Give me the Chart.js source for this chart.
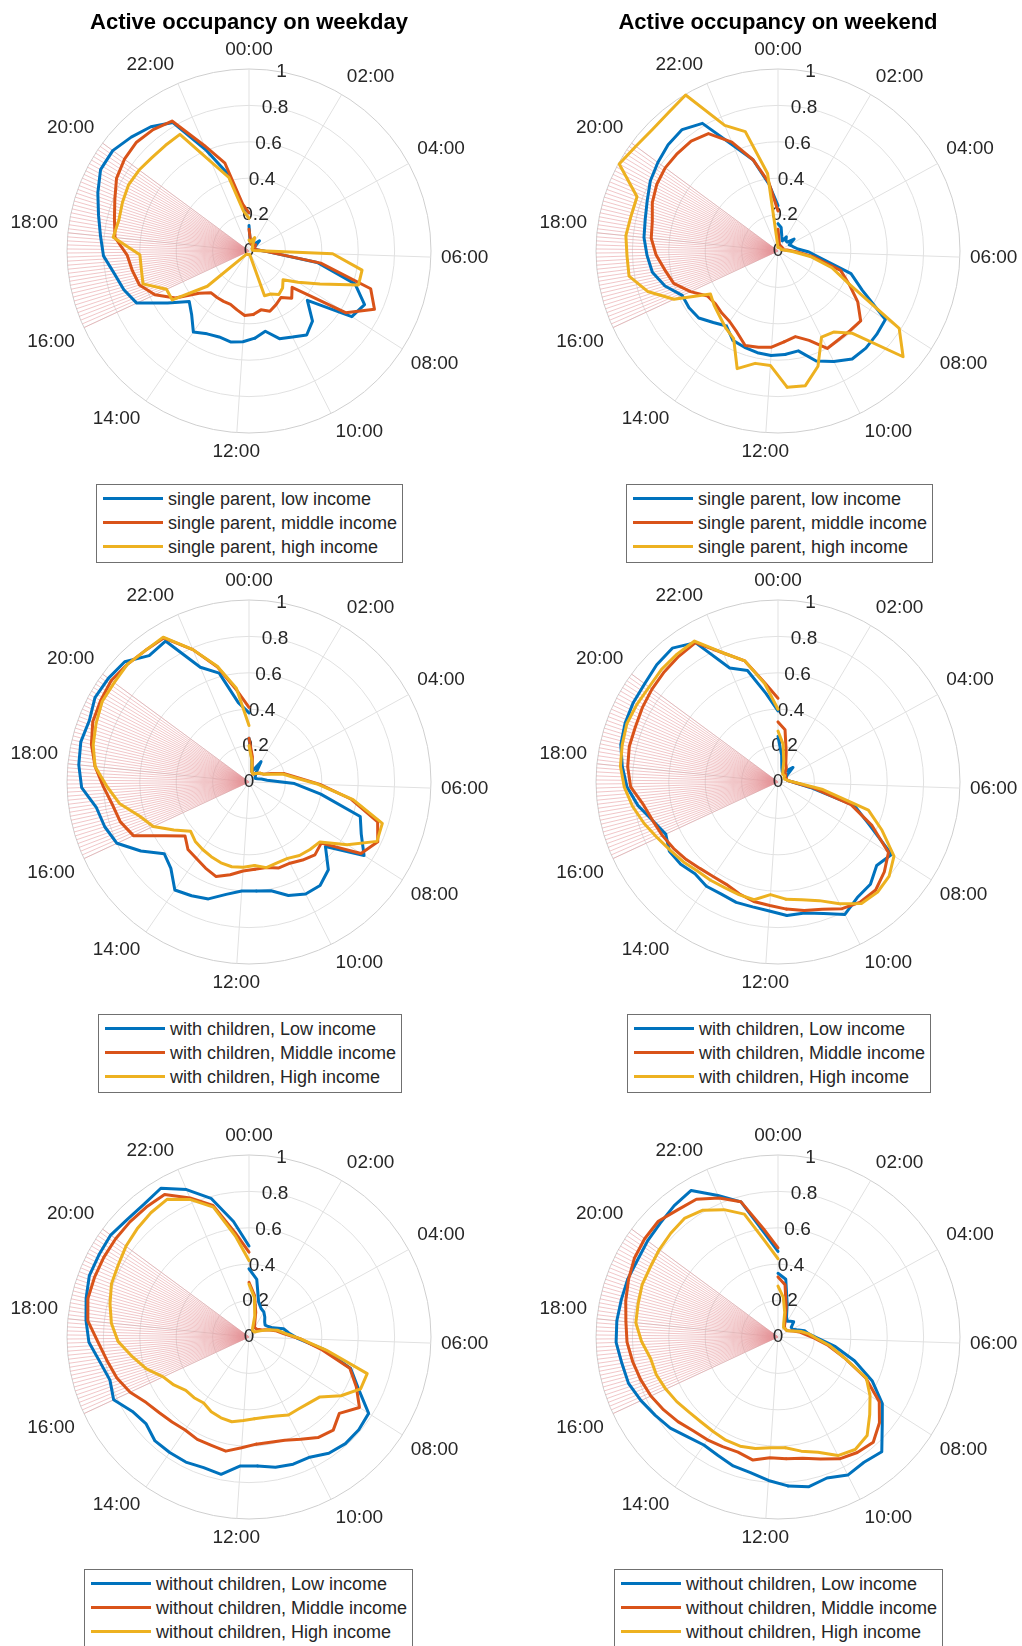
<!DOCTYPE html>
<html>
<head>
<meta charset="utf-8">
<script src="https://cdn.jsdelivr.net/npm/chart.js@4/dist/chart.umd.min.js"></script>
<style>
html,body{margin:0;padding:0;background:#fff;}
#page{position:relative;width:1022px;height:1646px;overflow:hidden;background:#fff;font-family:"Liberation Sans",Arial,Helvetica,sans-serif;}
#page canvas{position:absolute;}
.legend{position:absolute;box-sizing:border-box;border:1px solid #707070;background:#fff;height:79px;z-index:2;}
.legend .row{position:absolute;left:0;right:0;height:24px;line-height:24px;font-size:18px;color:#262626;white-space:nowrap;}
.legend .sw{position:absolute;left:6px;top:10px;width:60px;height:3px;}
.legend .tx{position:absolute;left:71px;top:0;}
</style>
</head>
<body>
<div id="page"></div>
<script>
// ---------- data (half-hour steps 00:00 ... 23:30, 48 values each) ----------
const angleTickLabels = ['00:00','02:00','04:00','06:00','08:00','10:00','12:00','14:00','16:00','18:00','20:00','22:00'];
const radialTicks = [0, 0.2, 0.4, 0.6, 0.8, 1];
const radialTickLabels = ['0', '0.2', '0.4', '0.6', '0.8', '1'];
const fanStart = '16:00';
const fanEnd = '20:00';
const fanStepMinutes = 5;

const legendSingleParent = ['single parent, low income', 'single parent, middle income', 'single parent, high income'];
const legendWithChildren = ['with children, Low income', 'with children, Middle income', 'with children, High income'];
const legendWithoutChildren = ['without children, Low income', 'without children, Middle income', 'without children, High income'];
const titles = ['Active occupancy on weekday', 'Active occupancy on weekend'];

const spLowWeekday  = [0.14,0.05,0.04,0.04,0.04,0.05,0.08,0.04,0.03,0.03,0.04,0.05, 0.10,0.38,0.61,0.70,0.67,0.42,0.52,0.56,0.53,0.51,0.45,0.48, 0.50,0.51,0.50,0.51,0.54,0.47,0.43,0.53,0.68,0.72,0.75,0.80, 0.82,0.85,0.89,0.93,0.93,0.90,0.87,0.82,0.60,0.44,0.24,0.21];
const spMidWeekday  = [0.12,0.06,0.04,0.05,0.04,0.04,0.05,0.04,0.03,0.03,0.04,0.05, 0.10,0.40,0.70,0.76,0.63,0.31,0.35,0.31,0.33,0.35,0.33,0.35, 0.355,0.33,0.31,0.31,0.31,0.31,0.36,0.48,0.57,0.63,0.65,0.67, 0.74,0.76,0.79,0.83,0.85,0.86,0.85,0.83,0.63,0.50,0.26,0.21];
const spHighWeekday = [0.06,0.05,0.06,0.08,0.04,0.03,0.03,0.02,0.02,0.02,0.02,0.03, 0.46,0.63,0.63,0.43,0.32,0.245,0.275,0.29,0.265,0.26,0.02,0.02, 0.02,0.02,0.02,0.02,0.02,0.03,0.30,0.50,0.50,0.61,0.60,0.60, 0.75,0.735,0.745,0.755,0.75,0.74,0.74,0.745,0.53,0.42,0.22,0.18];

const spLowWeekend  = [0.15,0.13,0.08,0.06,0.09,0.07,0.07,0.11,0.07,0.08,0.09,0.11, 0.17,0.24,0.42,0.51,0.70,0.71,0.72,0.72,0.68,0.64,0.56,0.57, 0.575,0.57,0.56,0.55,0.50,0.53,0.57,0.58,0.58,0.65,0.70,0.72, 0.74,0.75,0.77,0.80,0.82,0.84,0.85,0.815,0.63,0.52,0.37,0.25];
const spMidWeekend  = [0.12,0.05,0.03,0.03,0.03,0.03,0.03,0.03,0.03,0.03,0.03,0.05, 0.10,0.20,0.36,0.43,0.52,0.595,0.59,0.59,0.60,0.52,0.48,0.50, 0.53,0.54,0.55,0.50,0.47,0.46,0.45,0.46,0.53,0.60,0.63,0.67, 0.70,0.71,0.74,0.76,0.77,0.77,0.77,0.75,0.65,0.52,0.38,0.22];
const spHighWeekend = [0.02,0.02,0.02,0.02,0.02,0.02,0.02,0.02,0.02,0.02,0.03,0.04, 0.08,0.18,0.31,0.43,0.79,0.90,0.61,0.54,0.53,0.67,0.755,0.75, 0.63,0.63,0.684,0.54,0.51,0.48,0.46,0.44,0.63,0.75,0.83,0.83, 0.84,0.83,0.83,0.995,0.97,0.96,0.97,0.996,0.75,0.68,0.43,0.02];

const wcLowWeekday  = [0.24,0.12,0.06,0.08,0.13,0.06,0.05,0.04,0.04,0.05,0.07,0.10, 0.25,0.40,0.64,0.68,0.75,0.55,0.65,0.69,0.69,0.66,0.61,0.60, 0.60,0.63,0.68,0.70,0.72,0.64,0.61,0.705,0.80,0.83,0.85,0.92, 0.94,0.95,0.94,0.965,0.96,0.95,0.885,0.90,0.685,0.62,0.44,0.38];
const wcMidWeekday  = [0.24,0.14,0.06,0.05,0.05,0.06,0.07,0.08,0.09,0.13,0.20,0.26, 0.39,0.57,0.74,0.78,0.73,0.52,0.54,0.52,0.50,0.50,0.48,0.48, 0.49,0.52,0.55,0.53,0.51,0.50,0.46,0.55,0.70,0.74,0.76,0.80, 0.85,0.89,0.92,0.93,0.94,0.93,0.92,0.92,0.79,0.655,0.51,0.41];
const wcHighWeekday = [0.20,0.12,0.06,0.05,0.05,0.06,0.07,0.08,0.09,0.12,0.19,0.25, 0.38,0.58,0.767,0.775,0.64,0.51,0.50,0.49,0.47,0.47,0.48,0.46, 0.47,0.475,0.47,0.46,0.45,0.44,0.42,0.49,0.58,0.63,0.72,0.78, 0.85,0.88,0.90,0.92,0.92,0.93,0.92,0.925,0.79,0.66,0.52,0.31];

const wcLowWeekend  = [0.25,0.15,0.08,0.06,0.06,0.08,0.115,0.06,0.05,0.05,0.05,0.06, 0.09,0.18,0.44,0.55,0.74,0.71,0.757,0.77,0.815,0.765,0.735,0.735, 0.71,0.70,0.70,0.69,0.695,0.68,0.70,0.708,0.68,0.72,0.78,0.83, 0.86,0.888,0.90,0.907,0.91,0.927,0.937,0.89,0.68,0.635,0.49,0.39];
const wcMidWeekend  = [0.33,0.29,0.17,0.11,0.09,0.06,0.06,0.05,0.05,0.05,0.05,0.06, 0.09,0.20,0.42,0.57,0.72,0.765,0.80,0.80,0.78,0.74,0.72,0.70, 0.68,0.67,0.65,0.63,0.63,0.64,0.66,0.68,0.70,0.72,0.75,0.81, 0.83,0.84,0.84,0.85,0.86,0.87,0.88,0.89,0.77,0.69,0.55,0.46];
const wcHighWeekend = [0.28,0.21,0.12,0.07,0.05,0.05,0.05,0.04,0.04,0.04,0.05,0.06, 0.10,0.25,0.52,0.63,0.756,0.80,0.816,0.81,0.75,0.69,0.66,0.645, 0.62,0.66,0.655,0.65,0.655,0.66,0.68,0.70,0.73,0.77,0.81,0.845, 0.87,0.88,0.89,0.885,0.88,0.89,0.895,0.90,0.77,0.69,0.545,0.40];

const ncLowWeekday  = [0.375,0.32,0.20,0.17,0.16,0.14,0.12,0.11,0.12,0.14,0.195,0.22, 0.27,0.42,0.585,0.66,0.78,0.79,0.79,0.775,0.74,0.74,0.73,0.71, 0.71,0.77,0.76,0.77,0.77,0.77,0.74,0.76,0.82,0.80,0.83,0.88, 0.90,0.92,0.94,0.94,0.944,0.93,0.93,0.95,0.88,0.79,0.64,0.50];
const ncMidWeekday  = [0.30,0.23,0.14,0.08,0.06,0.06,0.06,0.07,0.08,0.11,0.15,0.19, 0.28,0.40,0.58,0.65,0.72,0.65,0.69,0.67,0.63,0.60,0.59,0.59, 0.61,0.64,0.63,0.63,0.62,0.63,0.645,0.67,0.72,0.76,0.79,0.83, 0.89,0.91,0.91,0.91,0.91,0.91,0.91,0.91,0.83,0.75,0.58,0.466];
const ncHighWeekday = [0.29,0.22,0.12,0.05,0.04,0.04,0.04,0.05,0.07,0.11,0.16,0.20, 0.28,0.43,0.68,0.676,0.60,0.51,0.49,0.48,0.48,0.46,0.45,0.45, 0.46,0.475,0.47,0.46,0.44,0.45,0.455,0.49,0.52,0.59,0.65,0.72, 0.76,0.785,0.81,0.82,0.84,0.855,0.87,0.88,0.82,0.74,0.56,0.42];

const ncLowWeekend  = [0.35,0.32,0.19,0.12,0.10,0.11,0.12,0.09,0.09,0.11,0.15,0.17, 0.22,0.32,0.44,0.57,0.68,0.75,0.85,0.835,0.85,0.82,0.84,0.82, 0.79,0.76,0.75,0.73,0.72,0.74,0.775,0.80,0.83,0.86,0.87,0.89, 0.89,0.885,0.885,0.88,0.89,0.90,0.92,0.936,0.845,0.77,0.58,0.47];
const ncMidWeekend  = [0.33,0.29,0.17,0.10,0.07,0.06,0.06,0.06,0.07,0.09,0.12,0.15, 0.20,0.28,0.38,0.53,0.66,0.73,0.78,0.77,0.75,0.71,0.68,0.67, 0.665,0.69,0.67,0.675,0.685,0.695,0.72,0.745,0.77,0.79,0.81,0.83, 0.84,0.86,0.88,0.90,0.91,0.915,0.89,0.88,0.83,0.77,0.60,0.49];
const ncHighWeekend = [0.28,0.22,0.14,0.08,0.06,0.06,0.06,0.06,0.07,0.09,0.13,0.17, 0.21,0.29,0.38,0.535,0.60,0.66,0.73,0.75,0.73,0.67,0.64,0.61, 0.61,0.625,0.635,0.635,0.63,0.63,0.64,0.66,0.68,0.70,0.71,0.75, 0.785,0.79,0.80,0.80,0.81,0.82,0.83,0.81,0.76,0.70,0.53,0.43];

// ---------- styling / layout ----------
const seriesColors = ['#0072BD', '#D95319', '#EDB120'];
const FONT = '"Liberation Sans", Arial, Helvetica, sans-serif';
const TEXT = '#262626';
const R = 182;            // radius of the r = 1 ring
const HALF = 260;         // half canvas size
const RTICK_ANGLE = 10.3; // degrees, where radial tick labels sit

// angular slots: 00:00 ... 23:00 in 30-minute steps; 23:30 wraps onto the 00:00 ray
const timeSlots = [];
for (let m = 0; m < 47 * 30; m += 30) {
  timeSlots.push(String(Math.floor(m / 60)).padStart(2, '0') + ':' + String(m % 60).padStart(2, '0'));
}
const toMinutes = s => { const [h, m] = s.split(':').map(Number); return h * 60 + m; };

const panels = [
  {cx: 249, cy: 251,  title: titles[0], series: [spLowWeekday, spMidWeekday, spHighWeekday], legend: legendSingleParent,   lg: {left: 96,  top: 484,  width: 307}},
  {cx: 778, cy: 251,  title: titles[1], series: [spLowWeekend, spMidWeekend, spHighWeekend], legend: legendSingleParent,   lg: {left: 626, top: 484,  width: 307}},
  {cx: 249, cy: 782,  title: '',        series: [wcLowWeekday, wcMidWeekday, wcHighWeekday], legend: legendWithChildren,   lg: {left: 98,  top: 1014, width: 304}},
  {cx: 778, cy: 782,  title: '',        series: [wcLowWeekend, wcMidWeekend, wcHighWeekend], legend: legendWithChildren,   lg: {left: 627, top: 1014, width: 304}},
  {cx: 249, cy: 1337, title: '',        series: [ncLowWeekday, ncMidWeekday, ncHighWeekday], legend: legendWithoutChildren, lg: {left: 84,  top: 1569, width: 329}},
  {cx: 778, cy: 1337, title: '',        series: [ncLowWeekend, ncMidWeekend, ncHighWeekend], legend: legendWithoutChildren, lg: {left: 614, top: 1569, width: 329}}
];

// a series is drawn as two open pieces so the polar line is not closed
function seriesDatasets(values, color, order) {
  const n = timeSlots.length;
  const partA = new Array(n).fill(null);
  const partB = new Array(n).fill(null);
  for (let i = 0; i <= 23; i++) partA[i] = values[i];
  for (let i = 23; i < n; i++) partB[i] = values[i];
  partB[0] = values[n];           // 23:30 lies on the 360° ray
  const base = {borderColor: color, backgroundColor: color, borderWidth: 3, pointRadius: 0, pointHoverRadius: 0,
                fill: false, order: order, borderJoinStyle: 'round', borderCapStyle: 'round', tension: 0};
  return [Object.assign({data: partA}, base), Object.assign({data: partB}, base)];
}

const polarDecor = {
  id: 'polarDecor',
  beforeDatasetsDraw(chart, args, opts) {
    const r = chart.scales.r, ctx = chart.ctx;
    const n = chart.data.labels.length;
    const outer = r.getDistanceFromCenterForValue(1);
    // highlighted period fan
    ctx.save();
    ctx.strokeStyle = 'rgb(230,150,155)';
    ctx.lineWidth = 0.55;
    ctx.beginPath();
    for (let m = toMinutes(fanStart); m <= toMinutes(fanEnd); m += fanStepMinutes) {
      const p = r.getPointPosition(m / 30, outer);
      ctx.moveTo(r.xCenter, r.yCenter);
      ctx.lineTo(p.x, p.y);
    }
    ctx.stroke();
    // radial tick labels
    ctx.fillStyle = TEXT;
    ctx.font = '19px ' + FONT;
    ctx.textAlign = 'center';
    ctx.textBaseline = 'middle';
    const idx = RTICK_ANGLE / 360 * n;
    radialTicks.forEach((v, i) => {
      const p = r.getPointPosition(idx, r.getDistanceFromCenterForValue(v));
      ctx.fillText(radialTickLabels[i], p.x, p.y);
    });
    // angular labels
    angleTickLabels.forEach(lbl => {
      const index = toMinutes(lbl) / 30;
      const a = index / n * 2 * Math.PI;
      const s = Math.sin(a), c = Math.cos(a);
      const p = r.getPointPosition(index, outer + 10);
      ctx.textAlign = s > 0.1 ? 'left' : (s < -0.1 ? 'right' : 'center');
      ctx.textBaseline = c > 0.1 ? 'bottom' : (c < -0.1 ? 'top' : 'middle');
      ctx.fillText(lbl, p.x, p.y);
    });
    ctx.restore();
  },
  afterDraw(chart, args, opts) {
    if (!opts.title) return;
    const r = chart.scales.r, ctx = chart.ctx;
    ctx.save();
    ctx.fillStyle = '#000';
    ctx.font = 'bold 22px ' + FONT;
    ctx.textAlign = 'center';
    ctx.textBaseline = 'alphabetic';
    ctx.fillText(opts.title, r.xCenter, r.yCenter - 222.5);
    ctx.restore();
  }
};

const page = document.getElementById('page');
panels.forEach((pn, k) => {
  const cv = document.createElement('canvas');
  cv.width = 2 * HALF; cv.height = 2 * HALF;
  cv.style.width = (2 * HALF) + 'px'; cv.style.height = (2 * HALF) + 'px';
  cv.style.left = (pn.cx - HALF) + 'px';
  cv.style.top = (pn.cy - HALF) + 'px';
  page.appendChild(cv);

  const datasets = [];
  pn.series.forEach((vals, s) => { datasets.push(...seriesDatasets(vals, seriesColors[s], 2 - s)); });

  new Chart(cv.getContext('2d'), {
    type: 'radar',
    data: {labels: timeSlots, datasets: datasets},
    options: {
      responsive: false, animation: false, devicePixelRatio: 1,
      layout: {padding: HALF - R},
      events: [],
      plugins: {legend: {display: false}, tooltip: {enabled: false}, title: {display: false},
                polarDecor: {title: pn.title}},
      scales: {
        r: {
          min: 0, max: 1, startAngle: 0,
          ticks: {display: false, stepSize: 0.2},
          pointLabels: {display: false},
          grid: {circular: true, lineWidth: 1,
                 color: c => (c.tick && c.tick.value >= 1) ? '#cfcfcf' : '#e1e1e1'},
          angleLines: {display: true, color: '#e1e1e1',
                       lineWidth: c => (c.index % 4 === 0 ? 1 : 0)}
        }
      }
    },
    plugins: [polarDecor]
  });

  const lg = document.createElement('div');
  lg.className = 'legend';
  lg.style.left = pn.lg.left + 'px';
  lg.style.top = pn.lg.top + 'px';
  lg.style.width = pn.lg.width + 'px';
  pn.legend.forEach((txt, s) => {
    const row = document.createElement('div');
    row.className = 'row';
    row.style.top = (2 + 24 * s) + 'px';
    const sw = document.createElement('div');
    sw.className = 'sw';
    sw.style.background = seriesColors[s];
    const tx = document.createElement('div');
    tx.className = 'tx';
    tx.textContent = txt;
    row.appendChild(sw); row.appendChild(tx);
    lg.appendChild(row);
  });
  page.appendChild(lg);
});
</script>
</body>
</html>
